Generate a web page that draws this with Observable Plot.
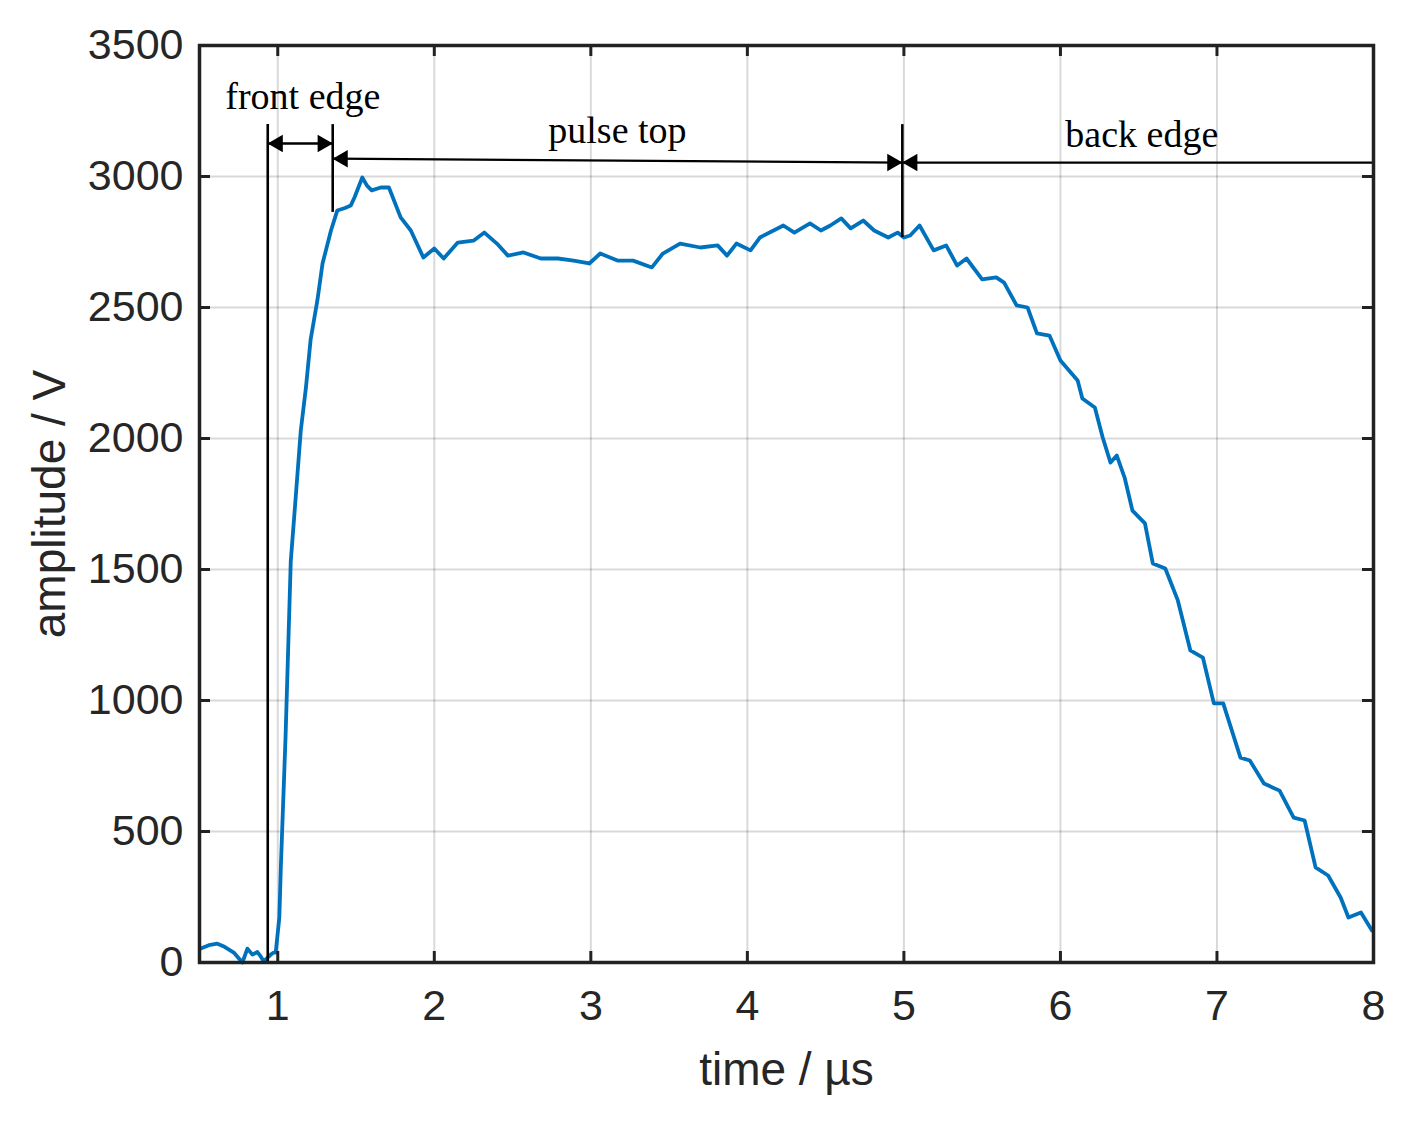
<!DOCTYPE html>
<html><head><meta charset="utf-8">
<script src="https://cdn.jsdelivr.net/npm/d3@7"></script>
<script src="https://cdn.jsdelivr.net/npm/@observablehq/plot@0.6"></script>
<style>
body{margin:0;background:#fff}
#chart svg{display:block}
</style></head><body><div id="chart"></div>
<script>
// time in µs, amplitude in V
const time = [0.508,0.56,0.614,0.66,0.719,0.774,0.806,0.838,0.87,0.891,0.911,0.955,0.974,0.987,1.01,1.02,1.05,1.083,1.115,1.147,1.18,1.21,1.253,1.286,1.34,1.38,1.43,1.466,1.49,1.54,1.57,1.60,1.658,1.71,1.785,1.85,1.93,2.0,2.06,2.15,2.25,2.32,2.40,2.47,2.57,2.68,2.79,2.89,2.99,3.06,3.17,3.27,3.39,3.46,3.57,3.70,3.81,3.87,3.93,4.02,4.08,4.23,4.30,4.40,4.47,4.53,4.60,4.66,4.74,4.81,4.90,4.96,5.00,5.04,5.10,5.19,5.27,5.34,5.40,5.50,5.59,5.64,5.72,5.79,5.85,5.93,6.00,6.11,6.14,6.22,6.27,6.32,6.36,6.41,6.46,6.54,6.59,6.67,6.75,6.83,6.91,6.98,7.04,7.15,7.21,7.30,7.40,7.49,7.56,7.63,7.71,7.79,7.84,7.92,7.99];
const amplitude = [53,66,72,60,38,0,53,30,40,23,4,30,38,38,172,370,866,1531,1779,2030,2195,2378,2527,2668,2794,2870,2880,2889,2920,2996,2965,2947,2958,2958,2844,2794,2691,2725,2687,2748,2755,2786,2744,2698,2710,2687,2687,2679,2668,2706,2679,2679,2653,2706,2744,2729,2737,2698,2744,2718,2767,2813,2786,2821,2794,2813,2840,2802,2832,2794,2767,2786,2767,2775,2813,2718,2737,2660,2687,2607,2615,2595,2508,2500,2401,2393,2298,2221,2153,2118,2004,1908,1935,1851,1725,1676,1523,1504,1382,1191,1164,989,989,782,771,683,656,553,542,363,332,248,172,191,122];

const xTicks = [1,2,3,4,5,6,7,8];
const yTicks = [0,500,1000,1500,2000,2500,3000,3500];

// annotation: boundaries between the phases
const markerTimes = [0.936, 1.351, 4.99];
const markerTop = 3198;
const markerBottoms = [0, 2863, 2767];

// annotation: spans with arrows
const spanLabels = ["front edge", "pulse top", "back edge"];
const labelTimes = [1.16, 3.17, 6.52];
const labelAmps = [3305, 3176, 3160];
const spanStart = [0.936, 1.351, 4.99];
const spanEnd = [1.351, 4.99, 8];
const spanAmpStart = [3126, 3068, 3053];
const spanAmpEnd = [3126, 3053, 3053];
const spanHeadStart = [true, true, true];
const spanHeadEnd = [true, true, false];

const W = 1411, H = 1128, mL = 199, mR = 38, mT = 45, mB = 166;
const plotW = W - mL - mR, plotH = H - mT - mB;

const curve = time.map((t, i) => ({t, v: amplitude[i]}));
const markers = markerTimes.map((t, i) => ({t, top: markerTop, bottom: markerBottoms[i]}));
const spans = spanStart.map((s, i) => ({x1: s, x2: spanEnd[i], y1: spanAmpStart[i], y2: spanAmpEnd[i]}));
const labels = spanLabels.map((s, i) => ({s, t: labelTimes[i], v: labelAmps[i]}));
const headsLeft = spans.filter((d, i) => spanHeadStart[i]).map(d => ({t: d.x1, v: d.y1}));
const headsRight = spans.filter((d, i) => spanHeadEnd[i]).map(d => ({t: d.x2, v: d.y2}));

const sans = "Liberation Sans, Arial, Helvetica, sans-serif";
const serif = "Liberation Serif, Times New Roman, serif";
const tickColor = "#262626";
const inner = xTicks.filter(d => d < 8);
const innerY = yTicks.filter(d => d > 0 && d < 3500);

const chart = Plot.plot({
  width: W, height: H,
  marginLeft: mL, marginRight: mR, marginTop: mT, marginBottom: mB,
  style: {fontFamily: sans, fontSize: "43px", color: tickColor, background: "#fff"},
  x: {domain: [0.5, 8], label: null},
  y: {domain: [0, 3500], label: null},
  marks: [
    Plot.gridX(xTicks, {stroke: "#000", strokeOpacity: 0.15, strokeWidth: 2}),
    Plot.gridY(yTicks, {stroke: "#000", strokeOpacity: 0.15, strokeWidth: 2}),
    Plot.axisX(xTicks, {tickSize: 0, tickPadding: 27, tickFormat: d => String(d), fontSize: 43, fontFamily: sans, fill: tickColor, label: null}),
    Plot.axisY(yTicks, {tickSize: 0, tickPadding: 16, tickFormat: d => String(d), fontSize: 43, fontFamily: sans, fill: tickColor, label: null}),
    Plot.line(curve, {x: "t", y: "v", stroke: "#0072BD", strokeWidth: 3.8, strokeLinejoin: "round"}),
    Plot.ruleX(markers, {x: "t", y1: "bottom", y2: "top", stroke: "#000", strokeWidth: 2.6}),
    Plot.link(spans, {x1: "x1", x2: "x2", y1: "y1", y2: "y2", stroke: "#000", strokeWidth: 2.3}),
    Plot.dot(headsLeft, {x: "t", y: "v", symbol: "triangle", rotate: -90, r: 6.5, fill: "#000", stroke: "none", dx: 10}),
    Plot.dot(headsRight, {x: "t", y: "v", symbol: "triangle", rotate: 90, r: 6.5, fill: "#000", stroke: "none", dx: -10}),
    Plot.text(labels, {x: "t", y: "v", text: "s", fontFamily: serif, fontSize: 38, fill: "#000"}),
    // inward ticks on all four sides
    Plot.ruleX(inner, {x: d => d, insetTop: plotH - 11, stroke: "#222", strokeWidth: 3}),
    Plot.ruleX(inner, {x: d => d, insetBottom: plotH - 11, stroke: "#222", strokeWidth: 3}),
    Plot.ruleY(innerY, {y: d => d, insetRight: plotW - 11, stroke: "#222", strokeWidth: 3}),
    Plot.ruleY(innerY, {y: d => d, insetLeft: plotW - 11, stroke: "#222", strokeWidth: 3}),
    Plot.frame({stroke: "#222", strokeWidth: 3.5}),
    Plot.text(["time / µs"], {frameAnchor: "bottom", lineAnchor: "middle", textAnchor: "middle", dy: 108, text: d => d, fontSize: 46, fontFamily: sans, fill: tickColor}),
    Plot.text(["amplitude / V"], {frameAnchor: "left", lineAnchor: "middle", textAnchor: "middle", dx: -149, rotate: -90, text: d => d, fontSize: 46, fontFamily: sans, fill: tickColor})
  ]
});
document.getElementById("chart").append(chart);
</script>
</body></html>
